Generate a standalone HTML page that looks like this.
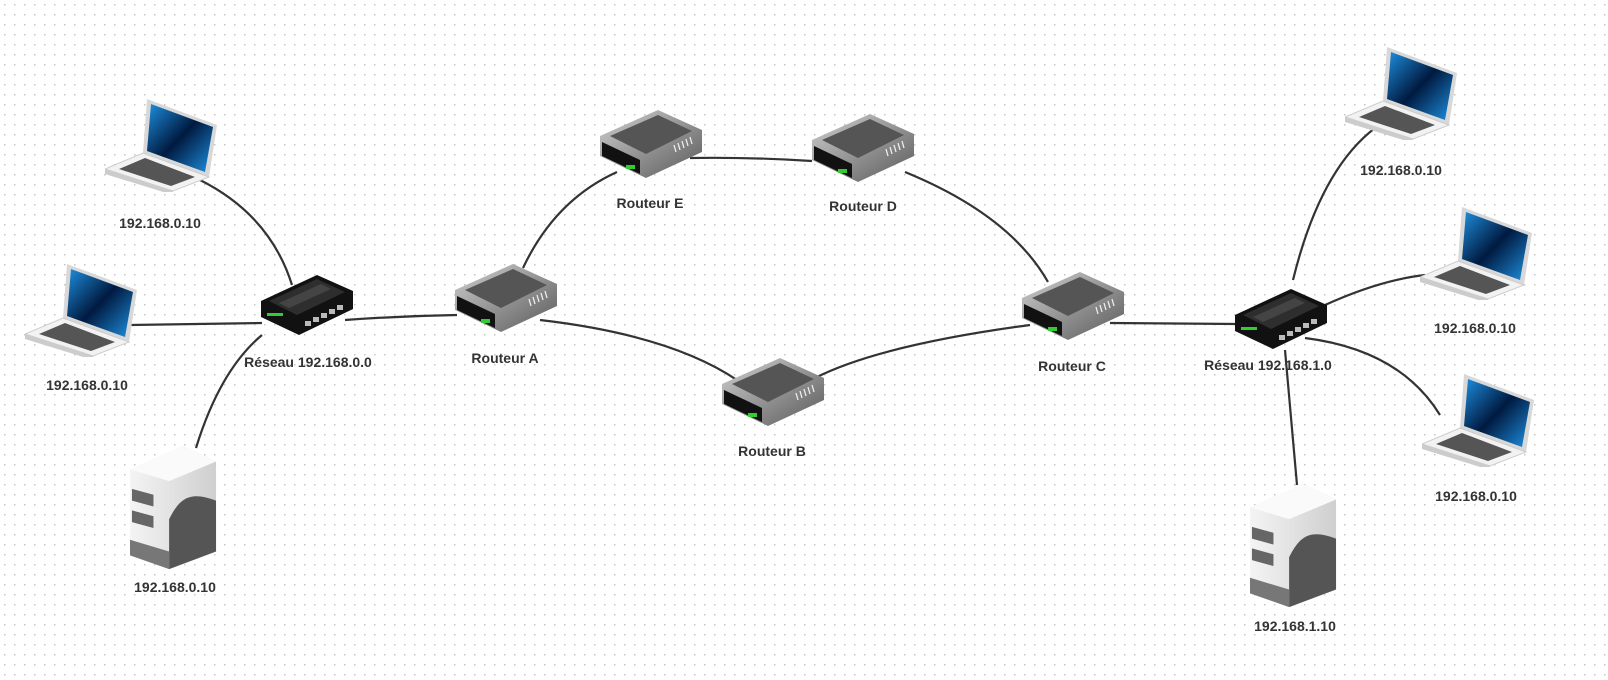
<!DOCTYPE html>
<html><head><meta charset="utf-8"><style>
html,body{margin:0;padding:0;background:#fff}
svg{display:block}
text{font-family:"Liberation Sans",Arial,sans-serif;font-weight:bold;font-size:14px;fill:#333;text-anchor:middle}
</style></head><body>
<svg width="1608" height="680" viewBox="0 0 1608 680" xmlns="http://www.w3.org/2000/svg">
<defs>
<pattern id="dots" width="10" height="10" patternUnits="userSpaceOnUse"><rect x="4" y="4" width="1.5" height="1.5" fill="#c4c4c4"/></pattern>
<linearGradient id="rg" x1="0" y1="0" x2="1" y2="1"><stop offset="0" stop-color="#d0d0d0"/><stop offset="1" stop-color="#5a5a5a"/></linearGradient>
<linearGradient id="scr" x1="0" y1="0" x2="1" y2="1"><stop offset="0" stop-color="#1e90e0"/><stop offset=".5" stop-color="#001a40"/><stop offset="1" stop-color="#1e90e0"/></linearGradient>
<linearGradient id="srv" x1="0" y1="0" x2="1" y2="0"><stop offset="0" stop-color="#f4f4f4"/><stop offset="1" stop-color="#cfcfcf"/></linearGradient>
<symbol id="router" viewBox="0 0 104 70">
<polygon points="2,28 60,2 104,22 104,44 48,70 2,48" fill="url(#rg)"/>
<polygon points="12,28 60,7 94,23 48,46" fill="#555"/>
<polygon points="4,34 42,52 42,66 4,48" fill="#111"/>
<rect x="28" y="57" width="9" height="4" fill="#3c3"/>
<g stroke="#eee" stroke-width="1.3"><line x1="78" y1="44" x2="76" y2="37"/><line x1="82" y1="42" x2="80" y2="35"/><line x1="86" y1="40" x2="84" y2="33"/><line x1="90" y1="38" x2="88" y2="31"/><line x1="94" y1="36" x2="92" y2="29"/></g>
</symbol>
<symbol id="switch" viewBox="0 0 96 64">
<polygon points="2,28 58,2 94,18 94,36 40,62 2,44" fill="#111"/>
<polygon points="10,28 58,6 86,19 38,42" fill="#2e2e2e"/>
<polygon points="20,30 62,11 72,16 30,35" fill="#444"/>
<rect x="8" y="40" width="16" height="3" fill="#3c3"/>
<g fill="#bbb"><rect x="46" y="48" width="6" height="5"/><rect x="54" y="44" width="6" height="5"/><rect x="62" y="40" width="6" height="5"/><rect x="70" y="36" width="6" height="5"/><rect x="78" y="32" width="6" height="5"/></g>
</symbol>
<symbol id="laptop" viewBox="0 0 112 95">
<polygon points="42,2 112,28 104,80 38,56" fill="#d8d8d8"/>
<polygon points="46,7 108,30 100,75 42,54" fill="url(#scr)"/>
<polygon points="0,72 38,56 104,80 68,94" fill="#f2f2f2" stroke="#ccc"/>
<polygon points="14,72 40,61 90,80 66,89" fill="#555"/>
<polygon points="0,72 68,94 68,98 0,77" fill="#ccc"/>
</symbol>
<symbol id="server" viewBox="0 0 90 126">
<polygon points="0,24 54,0 88,16 88,108 40,126 0,110" fill="url(#srv)"/>
<polygon points="0,24 54,0 88,16 40,36" fill="#fafafa"/>
<path d="M40,75 C50,55 60,45 88,56 L88,108 L40,126 Z" fill="#555"/>
<polygon points="2,44 24,50 24,62 2,56" fill="#666"/>
<polygon points="2,66 24,72 24,84 2,78" fill="#666"/>
<polygon points="0,96 40,108 40,126 0,112" fill="#777"/>
</symbol>
</defs>
<rect width="1608" height="680" fill="url(#dots)"/>
<g stroke="#333" stroke-width="2.2" fill="none">
<path d="M200,180 Q270,215 292,285"/>
<path d="M130,325 L262,323"/>
<path d="M196,448 Q220,370 262,335"/>
<path d="M345,320 Q400,316 457,315"/>
<path d="M523,268 Q555,200 617,172"/>
<path d="M690,158 Q750,157 812,161"/>
<path d="M905,172 Q1010,215 1048,282"/>
<path d="M540,320 Q670,335 737,380"/>
<path d="M815,378 Q880,345 1030,325"/>
<path d="M1110,323 L1237,324"/>
<path d="M1293,280 Q1320,170 1375,128"/>
<path d="M1325,305 Q1380,280 1425,275"/>
<path d="M1305,338 Q1400,350 1440,415"/>
<path d="M1285,350 L1297,485"/>
</g>
<use href="#laptop" x="105" y="97" width="112" height="95"/>
<use href="#laptop" x="25" y="262" width="112" height="95"/>
<use href="#server" x="130" y="445" width="88" height="125"/>
<use href="#switch" x="259" y="273" width="96" height="64"/>
<use href="#router" x="453" y="262" width="104" height="70"/>
<use href="#router" x="598" y="108" width="104" height="70"/>
<use href="#router" x="810" y="112" width="104" height="70"/>
<use href="#router" x="720" y="356" width="104" height="70"/>
<use href="#router" x="1020" y="270" width="104" height="70"/>
<use href="#switch" x="1233" y="287" width="96" height="64"/>
<use href="#laptop" x="1345" y="45" width="112" height="95"/>
<use href="#laptop" x="1420" y="205" width="112" height="95"/>
<use href="#laptop" x="1422" y="372" width="112" height="95"/>
<use href="#server" x="1250" y="483" width="88" height="125"/>
<text x="160" y="228">192.168.0.10</text>
<text x="87" y="390">192.168.0.10</text>
<text x="175" y="592">192.168.0.10</text>
<text x="308" y="367">Réseau 192.168.0.0</text>
<text x="505" y="363">Routeur A</text>
<text x="650" y="208">Routeur E</text>
<text x="863" y="211">Routeur D</text>
<text x="1072" y="371">Routeur C</text>
<text x="772" y="456">Routeur B</text>
<text x="1268" y="370">Réseau 192.168.1.0</text>
<text x="1401" y="175">192.168.0.10</text>
<text x="1475" y="333">192.168.0.10</text>
<text x="1476" y="501">192.168.0.10</text>
<text x="1295" y="631">192.168.1.10</text>
</svg>
</body></html>
